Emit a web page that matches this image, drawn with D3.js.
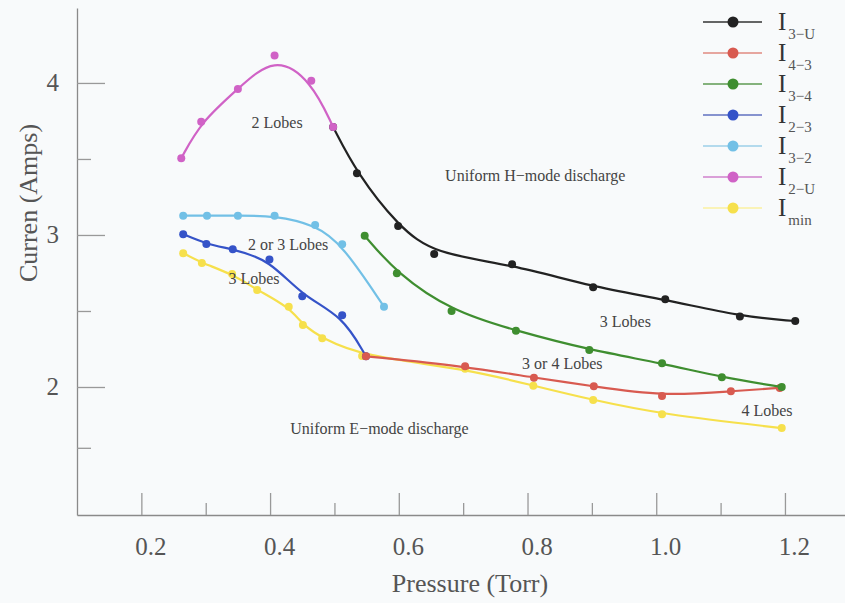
<!DOCTYPE html>
<html><head><meta charset="utf-8">
<script src="https://cdn.jsdelivr.net/npm/d3@7"></script>
<style>
html,body{margin:0;padding:0;background:#f8fafb;}
svg{display:block;font-family:"Liberation Serif","Times New Roman",serif;}
</style></head>
<body><svg id="chart" width="845" height="603"></svg>
<script>
// ---- data ----
const I3U_x = [0.498, 0.535, 0.599, 0.655, 0.776, 0.902, 1.014, 1.130, 1.216];
const I3U_y = [3.71, 3.406, 3.059, 2.875, 2.807, 2.656, 2.577, 2.463, 2.434];
const I43_x = [0.549, 0.703, 0.810, 0.903, 1.009, 1.116, 1.192];
const I43_y = [2.202, 2.136, 2.061, 2.005, 1.940, 1.972, 1.994];
const I34_x = [0.547, 0.597, 0.682, 0.782, 0.896, 1.009, 1.102, 1.195];
const I34_y = [2.995, 2.748, 2.500, 2.370, 2.244, 2.156, 2.064, 2.000];
const I23_x = [0.265, 0.301, 0.342, 0.399, 0.450, 0.512, 0.549];
const I23_y = [3.005, 2.941, 2.906, 2.838, 2.597, 2.472, 2.202];
const I32_x = [0.265, 0.302, 0.350, 0.407, 0.470, 0.512, 0.577];
const I32_y = [3.127, 3.127, 3.127, 3.127, 3.066, 2.939, 2.528];
const I2U_x = [0.262, 0.293, 0.350, 0.407, 0.464, 0.498];
const I2U_y = [3.505, 3.745, 3.96, 4.18, 4.015, 3.71];
const Imin_x = [0.265, 0.294, 0.341, 0.380, 0.429, 0.451, 0.481, 0.543, 0.703, 0.809, 0.902, 1.009, 1.195];
const Imin_y = [2.880, 2.816, 2.743, 2.638, 2.528, 2.408, 2.321, 2.204, 2.120, 2.009, 1.914, 1.820, 1.730];

const seriesNames = ["3−U", "4−3", "3−4", "2−3", "3−2", "2−U", "min"];
const seriesColors = ["#222222", "#d85a50", "#3f8e30", "#3553c8", "#72c0e6", "#d062c6", "#f6e04c"];
const legendLineColors = ["#333333", "#e08a80", "#5e9a52", "#6070c0", "#9ccfe8", "#d080cc", "#fbf0a0"];

const xMajorTicks = [0.2, 0.4, 0.6, 0.8, 1.0, 1.2];
const xMinorTicks = [0.3, 0.5, 0.7, 0.9, 1.1];
const yMajorTicks = [2, 3, 4];
const yMinorTicks = [1.6, 2.5, 3.5];

const annotations = [
  {t: "2 Lobes", x: 0.411, y: 3.743},
  {t: "Uniform H−mode discharge", x: 0.812, y: 3.395},
  {t: "2 or 3 Lobes", x: 0.428, y: 2.941},
  {t: "3 Lobes", x: 0.375, y: 2.717},
  {t: "3 Lobes", x: 0.952, y: 2.434},
  {t: "3 or 4 Lobes", x: 0.854, y: 2.158},
  {t: "4 Lobes", x: 1.172, y: 1.849},
  {t: "Uniform E−mode discharge", x: 0.570, y: 1.730}
];

// ---- scales ----
const svg = d3.select("#chart");
const x = d3.scaleLinear().domain([0.1, 1.2933]).range([77, 845]);
const y = d3.scaleLinear().domain([1.158, 4.493]).range([515, 8]);

// axes
const axisColor = "#8a8a8a";
const gx = svg.append("g").attr("transform", "translate(0,515)");
gx.call(d3.axisBottom(x).tickValues(xMajorTicks).tickSizeInner(-22).tickSizeOuter(0)
  .tickPadding(22).tickFormat(d3.format(".1f")));
const gx2 = svg.append("g").attr("transform", "translate(0,515)");
gx2.call(d3.axisBottom(x).tickValues(xMinorTicks).tickSizeInner(-12).tickSizeOuter(0).tickFormat(""));
gx2.select(".domain").remove();
gx.selectAll("text").attr("dx", "9px").attr("font-size", 25).attr("fill", "#555")
  .attr("font-family", "Liberation Serif, Times New Roman, serif");

const gy = svg.append("g").attr("transform", "translate(77,0)");
gy.call(d3.axisLeft(y).tickValues(yMajorTicks).tickSizeInner(-28).tickSizeOuter(0)
  .tickPadding(18).tickFormat(d3.format("d")));
const gy2 = svg.append("g").attr("transform", "translate(77,0)");
gy2.call(d3.axisLeft(y).tickValues(yMinorTicks).tickSizeInner(-14).tickSizeOuter(0).tickFormat(""));
gy2.select(".domain").remove();
gy.selectAll("text").attr("font-size", 25).attr("fill", "#555")
  .attr("font-family", "Liberation Serif, Times New Roman, serif");

svg.selectAll(".domain").attr("stroke", axisColor).attr("stroke-width", 1.3);
svg.selectAll(".tick line").attr("stroke", "#999").attr("stroke-width", 1.3);

// titles
svg.append("text").attr("x", 470).attr("y", 592).attr("text-anchor", "middle")
  .attr("font-size", 26).attr("fill", "#555").text("Pressure (Torr)");
svg.append("text").attr("transform", "translate(37,203) rotate(-90)").attr("text-anchor", "middle")
  .attr("font-size", 26).attr("fill", "#555").text("Curren (Amps)");

// series
const allSeries = [
  {xs: I3U_x, ys: I3U_y, c: 0},
  {xs: I43_x, ys: I43_y, c: 1},
  {xs: I34_x, ys: I34_y, c: 2},
  {xs: I23_x, ys: I23_y, c: 3},
  {xs: I32_x, ys: I32_y, c: 4},
  {xs: I2U_x, ys: I2U_y, c: 5},
  {xs: Imin_x, ys: Imin_y, c: 6}
];
const drawOrder = [6, 3, 4, 0, 5, 1, 2];
const line = d3.line().x(d => x(d[0])).y(d => y(d[1])).curve(d3.curveBasis);

drawOrder.forEach(i => {
  const s = allSeries[i];
  const pts = s.xs.map((v, k) => [v, s.ys[k]]);
  const g = svg.append("g");
  g.append("path").attr("d", line(pts)).attr("fill", "none")
    .attr("stroke", seriesColors[s.c]).attr("stroke-width", 2.2);
  g.selectAll("circle").data(pts).enter().append("circle")
    .attr("cx", d => x(d[0])).attr("cy", d => y(d[1])).attr("r", 4)
    .attr("fill", seriesColors[s.c]);
});

// annotations
svg.selectAll("text.ann").data(annotations).enter().append("text").attr("class", "ann")
  .attr("x", d => x(d.x)).attr("y", d => y(d.y)).attr("dy", "0.35em")
  .attr("text-anchor", "middle").attr("font-size", 16).attr("fill", "#444").text(d => d.t);

// legend
const lg = svg.append("g");
seriesNames.forEach((nm, i) => {
  const cy = 22 + i * 31;
  lg.append("line").attr("x1", 703).attr("x2", 762).attr("y1", cy).attr("y2", cy)
    .attr("stroke", legendLineColors[i]).attr("stroke-width", 1.6);
  lg.append("circle").attr("cx", 733).attr("cy", cy).attr("r", 5.5).attr("fill", seriesColors[i]);
  const t = lg.append("text").attr("x", 778).attr("y", cy + 8).attr("fill", "#333");
  t.append("tspan").attr("font-size", 25).text("I");
  t.append("tspan").attr("font-size", 15).attr("dx", 2).attr("dy", 9).attr("fill", "#555").text(nm);
});
</script></body></html>
